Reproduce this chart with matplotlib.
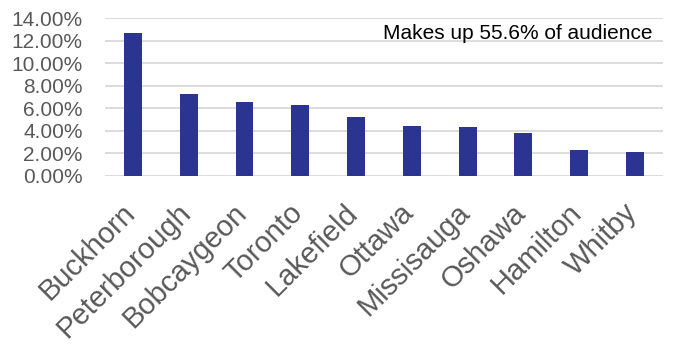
import matplotlib
matplotlib.use("Agg")
import matplotlib.pyplot as plt
import matplotlib.transforms as mtransforms
from matplotlib.ticker import FuncFormatter

cities = ["Buckhorn", "Peterborough", "Bobcaygeon", "Toronto", "Lakefield",
          "Ottawa", "Missisauga", "Oshawa", "Hamilton", "Whitby"]
shares = [12.7, 7.25, 6.55, 6.25, 5.25, 4.45, 4.35, 3.85, 2.3, 2.15]
y_ticks = [0, 2, 4, 6, 8, 10, 12, 14]
note = "Makes up 55.6% of audience"

plt.rcParams['font.family'] = ['Liberation Sans', 'DejaVu Sans']

fig = plt.figure(figsize=(6.73, 3.51), dpi=100)
ax = fig.add_axes([0.156, 0.4986, 0.829, 0.4501])

x = list(range(len(cities)))
ax.bar(x, shares, width=0.32, color="#2B3491", zorder=3)

ax.set_xlim(-0.5, len(cities) - 0.5)
ax.set_ylim(0, 14)
ax.set_yticks(y_ticks)
ax.yaxis.set_major_formatter(FuncFormatter(lambda v, p: f"{v:.2f}%"))
ax.grid(axis="y", color="#D9D9D9", linewidth=1.3, zorder=0)
for s in ax.spines.values():
    s.set_visible(False)
ax.tick_params(axis="y", length=0, pad=16, labelsize=15, labelcolor="#595959")
ax.tick_params(axis="x", length=0, pad=4, labelsize=21, labelcolor="#595959")
ax.set_xticks(x)
ax.set_xticklabels(cities, rotation=45, ha="right", va="top", rotation_mode="anchor")
offset = mtransforms.ScaledTranslation(-12 / 100, -17 / 100, fig.dpi_scale_trans)
for lbl in ax.get_xticklabels():
    lbl.set_transform(lbl.get_transform() + offset)

ax.text(0.982, 0.905, note, transform=ax.transAxes, ha="right", va="center",
        fontsize=15, color="black")

fig.savefig("out.png", dpi=100)
